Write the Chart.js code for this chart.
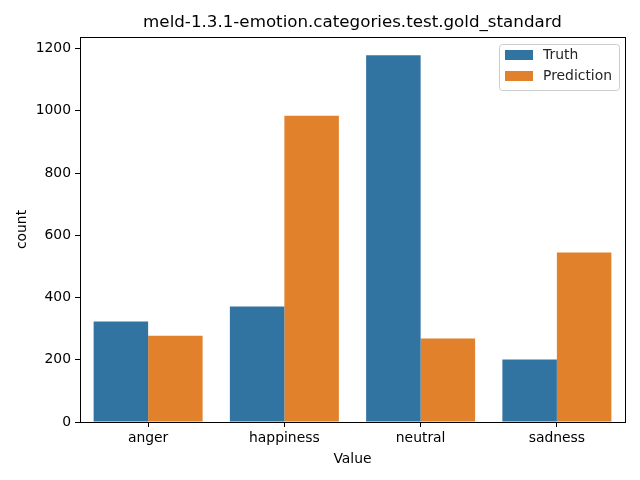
<!DOCTYPE html>
<html>
<head>
<meta charset="utf-8">
<script src="https://cdn.jsdelivr.net/npm/chart.js@4"></script>
<style>
  html, body { margin: 0; padding: 0; background: #fff; }
  #wrap { width: 640px; height: 480px; }
</style>
</head>
<body>
<div id="wrap"><canvas id="chart" width="640" height="480"></canvas></div>
<script>
const categories = ['anger', 'happiness', 'neutral', 'sadness'];
const truthCounts = [323, 371, 1178, 201];
const predictionCounts = [277, 984, 268, 545];
const yTicks = [0, 200, 400, 600, 800, 1000, 1200];
const yMax = 1237;
const chartTitle = 'meld-1.3.1-emotion.categories.test.gold_standard';

const FONT = 'DejaVu Sans';

// black frame on all four sides, like matplotlib spines
const framePlugin = {
    id: 'frame',
    afterDraw(chart) {
        const a = chart.chartArea;
        const ctx = chart.ctx;
        ctx.save();
        ctx.strokeStyle = '#000';
        ctx.lineWidth = 1;
        ctx.strokeRect(Math.round(a.left) + 0.5, Math.round(a.top) + 0.5,
            Math.round(a.right - a.left), Math.round(a.bottom - a.top));
        ctx.restore();
    }
};

// title centred over the plot area, not the whole canvas
const axesTitle = {
    id: 'axesTitle',
    afterDraw(chart) {
        const a = chart.chartArea;
        const ctx = chart.ctx;
        ctx.save();
        ctx.font = '16.7px ' + FONT;
        ctx.fillStyle = '#000';
        ctx.textAlign = 'center';
        ctx.textBaseline = 'middle';
        ctx.fillText(chartTitle, (a.left + a.right) / 2, a.top - 14);
        ctx.restore();
    }
};

// legend box inside the upper right corner of the plot
const boxLegend = {
    id: 'boxLegend',
    afterDraw(chart) {
        const a = chart.chartArea;
        const ctx = chart.ctx;
        const w = 120, h = 46;
        const x = a.right - 6 - w, y = a.top + 7;
        ctx.save();
        ctx.fillStyle = 'rgba(255,255,255,0.8)';
        ctx.strokeStyle = '#cccccc';
        ctx.lineWidth = 1;
        ctx.beginPath();
        ctx.roundRect(x + 0.5, y + 0.5, w, h, 3);
        ctx.fill();
        ctx.stroke();
        ctx.font = '13.9px ' + FONT;
        ctx.textBaseline = 'middle';
        chart.data.datasets.forEach((ds, i) => {
            const rowY = y + 11 + i * 21;
            ctx.fillStyle = ds.backgroundColor;
            ctx.fillRect(x + 6, rowY - 5, 28, 10);
            ctx.fillStyle = '#262626';
            ctx.fillText(ds.label, x + 44, rowY);
        });
        ctx.restore();
    }
};

new Chart(document.getElementById('chart'), {
    type: 'bar',
    data: {
        labels: categories,
        datasets: [{
            label: 'Truth',
            data: truthCounts,
            backgroundColor: '#3274a1',
            borderWidth: 0
        }, {
            label: 'Prediction',
            data: predictionCounts,
            backgroundColor: '#e1812c',
            borderWidth: 0
        }]
    },
    options: {
        responsive: false,
        animation: false,
        devicePixelRatio: 1,
        layout: { padding: { left: 10, right: 15, top: 37, bottom: 12 } },
        datasets: { bar: { categoryPercentage: 0.8, barPercentage: 1.0 } },
        scales: {
            x: {
                grid: { display: true, offset: false, drawOnChartArea: false, drawTicks: true, tickLength: 5, color: '#000' },
                border: { display: true, color: '#000' },
                ticks: { color: '#000', padding: 3, font: { family: FONT, size: 13.9 } },
                title: { display: true, text: 'Value', color: '#000', padding: { top: 2, bottom: 0 }, font: { family: FONT, size: 13.9 } },
                afterFit(scale) { scale.height = 46; }
            },
            y: {
                min: 0,
                max: yMax,
                afterBuildTicks(scale) { scale.ticks = yTicks.map(v => ({ value: v })); },
                grid: { display: true, drawOnChartArea: false, drawTicks: true, tickLength: 5, color: '#000' },
                border: { display: true, color: '#000' },
                ticks: {
                    color: '#000', padding: 4, font: { family: FONT, size: 13.9 },
                    callback: v => String(v)
                },
                title: { display: true, text: 'count', color: '#000', padding: { top: 4, bottom: 4 }, font: { family: FONT, size: 13.9 } },
                afterFit(scale) { scale.width = 70; }
            }
        },
        plugins: {
            legend: { display: false },
            tooltip: { enabled: false },
            title: { display: false }
        }
    },
    plugins: [framePlugin, axesTitle, boxLegend]
});
</script>
</body>
</html>
